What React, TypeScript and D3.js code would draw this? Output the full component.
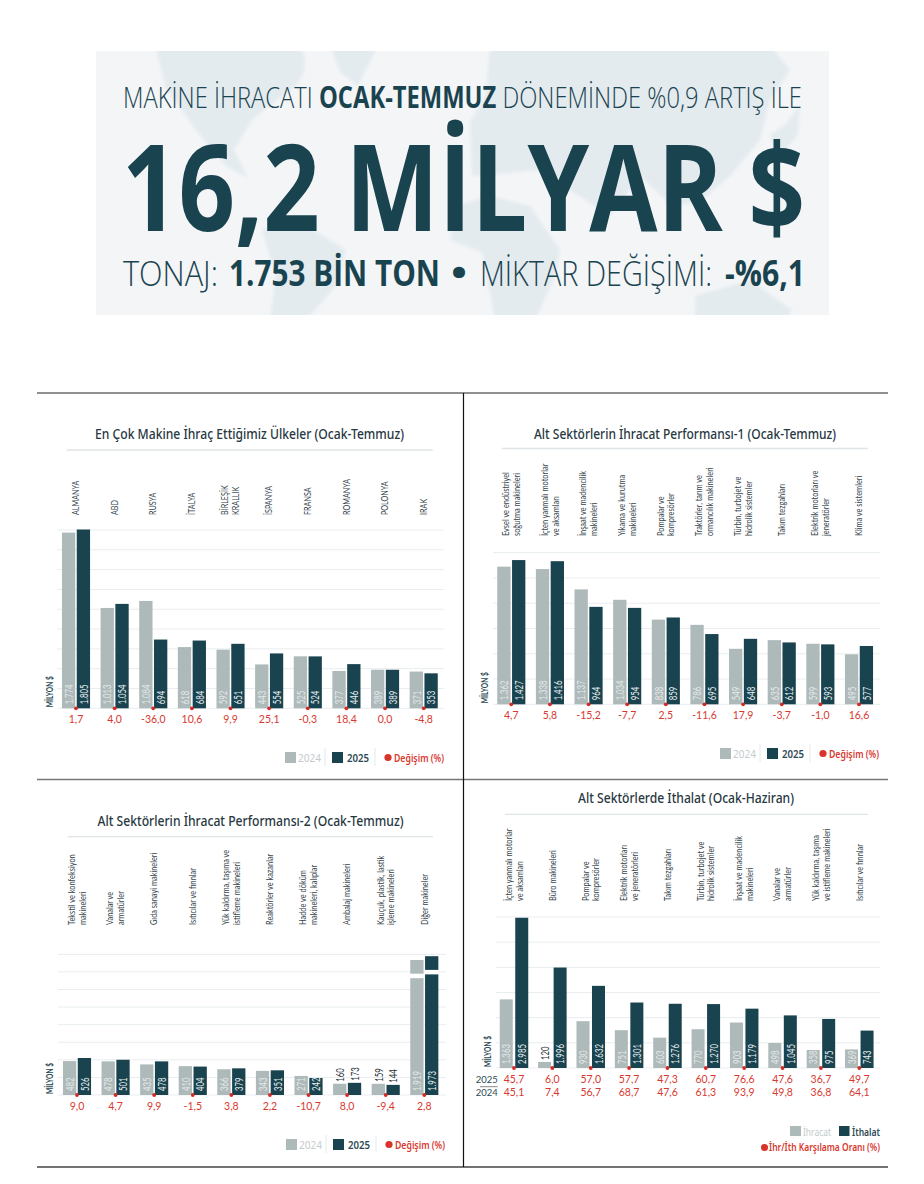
import React from "react";
import * as d3 from "d3";

// Ulkeler (Ocak-Temmuz)
const countryNames = ["ALMANYA", "ABD", "RUSYA", "İTALYA", "BİRLEŞİK|KRALLIK", "İSPANYA", "FRANSA", "ROMANYA", "POLONYA", "IRAK"];
const country2024 = [1774, 1013, 1084, 618, 592, 443, 525, 377, 389, 371];
const country2025 = [1805, 1054, 694, 684, 651, 554, 524, 446, 389, 353];
const countryChange = [1.7, 4.0, -36.0, 10.6, 9.9, 25.1, -0.3, 18.4, 0.0, -4.8];

// Alt sektorler 1
const sector1Names = [
  "Evsel ve endüstriyel|soğutma makineleri",
  "İçten yanmalı motorlar|ve aksamları",
  "İnşaat ve madencilik|makineleri",
  "Yıkama ve kurutma|makineleri",
  "Pompalar ve|kompresörler",
  "Traktörler, tarım ve|ormancılık makineleri",
  "Türbin, turbojet ve|hidrolik sistemler",
  "Takım tezgahları",
  "Elektrik motorları ve|jeneratörler",
  "Klima ve sistemleri",
];
const sector12024 = [1362, 1338, 1137, 1034, 838, 786, 549, 635, 599, 495];
const sector12025 = [1427, 1416, 964, 954, 859, 695, 648, 612, 593, 577];
const sector1Change = [4.7, 5.8, -15.2, -7.7, 2.5, -11.6, 17.9, -3.7, -1.0, 16.6];

// Alt sektorler 2
const sector2Names = [
  "Tekstil ve konfeksiyon|makineleri",
  "Vanalar ve|armatürler",
  "Gıda sanayi makineleri",
  "Isıtıcılar ve fırınlar",
  "Yük kaldırma, taşıma ve|istifleme makineleri",
  "Reaktörler ve kazanlar",
  "Hadde ve döküm|makineleri, kalıplar",
  "Ambalaj makineleri",
  "Kauçuk, plastik, lastik|işleme makineleri",
  "Diğer makineler",
];
const sector22024 = [482, 478, 435, 410, 366, 343, 271, 160, 159, 1919];
const sector22025 = [526, 501, 478, 404, 379, 351, 242, 173, 144, 1973];
const sector2Change = [9.0, 4.7, 9.9, -1.5, 3.8, 2.2, -10.7, 8.0, -9.4, 2.8];

// Ithalat (Ocak-Haziran)
const importNames = [
  "İçten yanmalı motorlar|ve aksamları",
  "Büro makineleri",
  "Pompalar ve|kompresörler",
  "Elektrik motorları|ve jeneratörleri",
  "Takım tezgahları",
  "Türbin, turbojet ve|hidrolik sistemler",
  "İnşaat ve madencilik|makineleri",
  "Vanalar ve|armatürler",
  "Yük kaldırma, taşıma|ve istifleme makineleri",
  "Isıtıcılar ve fırınlar",
];
const importExport = [1363, 120, 930, 751, 603, 770, 903, 498, 358, 369];
const importImport = [2985, 1996, 1632, 1301, 1276, 1270, 1179, 1045, 975, 743];
const coverage2025 = [45.7, 6.0, 57.0, 57.7, 47.3, 60.7, 76.6, 47.6, 36.7, 49.7];
const coverage2024 = [45.1, 7.4, 56.7, 68.7, 47.6, 61.3, 93.9, 49.8, 36.8, 64.1];

const DARK = "#1a4350";
const GREY = "#aeb9ba";
const RED = "#d8392f";
const LATO = "Lato, 'Liberation Sans', sans-serif";
const SANS = "'Noto Sans', 'Open Sans', sans-serif";
const OPEN = "'Open Sans', sans-serif";

const tr = d3.formatLocale({ decimal: ",", thousands: ".", grouping: [3], currency: ["", ""], minus: "-" });
const fmtValue = tr.format(",d");
const fmtChange = tr.format(",.1f");

interface PanelProps {
  title: string;
  titleX: number;
  titleY: number;
  titleW: number;
  ruleY: number;
  ruleX: [number, number];
  names: string[];
  a: number[];
  b: number[];
  rows: number[][];
  rowY: number[];
  base: number;
  top: number;
  max: number;
  step: number;
  gridX: [number, number];
  first: number;
  last: number;
  barW: number;
  gap: number;
  labelBottom: number;
  unitX: number;
  broken?: string;
  upper?: boolean;
}

// rotated text, squeezed along its length because no condensed font is installed
const Rot = ({ x, y, sx = 0.75, children, ...rest }: any) => (
  <text transform={`translate(${x},${y}) rotate(-90) scale(${sx},1)`} {...rest}>
    {children}
  </text>
);

function Panel(p: PanelProps) {
  const n = p.names.length;
  const stepX = (p.last - p.first) / (n - 1);
  const x = d3
    .scaleBand<string>()
    .domain(p.names)
    .range([p.first - stepX / 2, p.last + stepX / 2])
    .padding(0);
  const y = d3.scaleLinear().domain([0, p.max]).range([p.base, p.top]);
  const ticks = d3.range(0, p.max + p.step, p.step);
  const center = (name: string) => (x(name) as number) + x.bandwidth() / 2;

  const drawBar = (name: string, v: number, bx: number, fill: string, textFill: string) => {
    const h = p.base - y(v);
    const inside = h >= 15;
    return (
      <g key={fill}>
        <rect x={bx} y={y(v)} width={p.barW} height={h} fill={fill} />
        {p.broken === name && <rect x={bx - 0.5} y={y(v) + 13.7} width={p.barW + 1} height={4.5} fill="#fff" />}
        <Rot
          x={bx + p.barW / 2 + 4.2}
          y={inside ? p.base - 4 : y(v) - 2}
          sx={0.65}
          fontFamily={LATO}
          fontSize={12}
          fill={inside ? textFill : "#2a2f33"}
        >
          {fmtValue(v)}
        </Rot>
      </g>
    );
  };

  return (
    <g>
      <text
        x={p.titleX}
        y={p.titleY}
        textAnchor="middle"
        fontFamily={SANS}
        fontWeight={500}
        fontSize={13.5}
        fill="#28383f"
        textLength={p.titleW}
        lengthAdjust="spacingAndGlyphs"
      >
        {p.title}
      </text>
      <line x1={p.ruleX[0]} x2={p.ruleX[1]} y1={p.ruleY} y2={p.ruleY} stroke="#dfe4e6" strokeWidth={1.3} />

      {ticks.map((t) => (
        <line key={t} x1={p.gridX[0]} x2={p.gridX[1]} y1={y(t)} y2={y(t)} stroke="#e9edef" strokeWidth={1} />
      ))}

      <Rot x={p.unitX} y={p.base - 1} sx={0.74} fontFamily={LATO} fontSize={9} fontWeight={700} fill="#2c4a55">
        MİLYON $
      </Rot>

      {p.names.map((name, i) => {
        const cx = center(name);
        const lines = name.split("|");
        return (
          <g key={name}>
            {lines.map((l, j) => (
              <Rot
                key={l}
                x={cx + (j - (lines.length - 1) / 2) * 10.8 + 3.2}
                y={p.labelBottom}
                sx={p.upper ? 0.72 : 0.74}
                fontFamily={LATO}
                fontSize={10}
                fill="#35454c"
              >
                {l}
              </Rot>
            ))}
            {drawBar(name, p.a[i], cx - p.barW - p.gap / 2, GREY, "#e4e9e9")}
            {drawBar(name, p.b[i], cx + p.gap / 2, DARK, "#e6eeef")}
            <circle cx={cx} cy={p.base} r={1.9} fill="#d42a26" />
            {p.rows.map((row, r) => (
              <text key={r} x={cx} y={p.rowY[r]} textAnchor="middle" fontFamily={LATO} fontSize={10.5} fill={RED}>
                {fmtChange(row[i])}
              </text>
            ))}
          </g>
        );
      })}
    </g>
  );
}

const YearLegend = ({ x, y }: { x: number; y: number }) => (
  <g transform={`translate(${x},${y})`}>
    <rect x={0} y={0} width={11} height={11} fill={GREY} />
    <text x={13} y={10} fontFamily={SANS} fontSize={10.5} fill="#c3cbcd" textLength={23} lengthAdjust="spacingAndGlyphs">
      2024
    </text>
    <line x1={40} x2={40} y1={-4} y2={14} stroke="#e4e8ea" />
    <rect x={47} y={0} width={11} height={11} fill={DARK} />
    <text x={62} y={10} fontFamily={SANS} fontSize={10.5} fontWeight={600} fill="#2c4a55" textLength={22} lengthAdjust="spacingAndGlyphs">
      2025
    </text>
    <line x1={90} x2={90} y1={-4} y2={14} stroke="#e4e8ea" />
    <circle cx={103} cy={5.5} r={3.6} fill="#d9332b" />
    <text x={109} y={10} fontFamily={SANS} fontSize={10} fontWeight={600} fill={RED} textLength={50} lengthAdjust="spacingAndGlyphs">
      Değişim (%)
    </text>
  </g>
);

const Fit = ({ x, w, bold, children }: any) => (
  <text x={x} y={286} fontFamily={OPEN} fontWeight={bold ? 700 : 300} fontSize={35} fill={DARK} textLength={w} lengthAdjust="spacingAndGlyphs">
    {children}
  </text>
);

export default function App() {
  return (
    <svg width={924} height={1184} viewBox="0 0 924 1184" style={{ position: "absolute", left: 0, top: 0, background: "#fff" }}>
      <defs>
        <filter id="soft">
          <feGaussianBlur stdDeviation="1.6" />
        </filter>
        <clipPath id="banner">
          <rect x={96} y={51} width={733} height={264} />
        </clipPath>
      </defs>

      {/* banner with a faint world map */}
      <rect x={96} y={51} width={733} height={264} fill="#f3f5f7" />
      <g clipPath="url(#banner)" fill="#e4ebef" filter="url(#soft)">
        <path d="M155,45 L300,45 C312,68 300,86 282,96 L252,120 L234,150 L248,178 L226,166 L196,130 L166,88 Z" />
        <path d="M330,45 L378,45 L358,86 L340,72 Z" />
        <path d="M262,230 L300,222 L346,250 L336,286 L306,320 L270,320 L276,276 Z" />
        <path d="M455,206 L490,196 L530,206 L560,250 L555,276 L535,320 L495,320 L482,252 L450,240 Z" />
        <path d="M490,45 L770,45 L790,70 L770,100 L760,140 L730,176 L700,202 L672,206 L640,176 L610,216 L570,190 L540,170 L472,176 L470,122 L486,96 Z" />
        <path d="M695,296 L750,280 L792,310 L786,320 L695,320 Z" />
        <path d="M770,135 L785,125 L800,105 L798,135 L778,158 Z" />
      </g>
      <text x={123} y={108} fontFamily={OPEN} fontWeight={300} fontSize={30} fill={DARK} textLength={679} lengthAdjust="spacingAndGlyphs">
        MAKİNE İHRACATI <tspan fontWeight={700}>OCAK-TEMMUZ</tspan> DÖNEMİNDE %0,9 ARTIŞ İLE
      </text>
      <text x={122} y={231} fontFamily={OPEN} fontWeight={700} fontSize={120} fill={DARK} textLength={683} lengthAdjust="spacingAndGlyphs">
        16,2 MİLYAR $
      </text>
      <Fit x={123} w={95}>TONAJ:</Fit>
      <Fit x={229} w={211} bold>1.753 BİN TON</Fit>
      <Fit x={451} w={16} bold>•</Fit>
      <Fit x={480} w={232}>MİKTAR DEĞİŞİMİ:</Fit>
      <Fit x={725} w={80} bold>-%6,1</Fit>

      {/* frame */}
      <line x1={37} x2={888} y1={393} y2={393} stroke="#222" strokeWidth={1.2} />
      <line x1={37} x2={888} y1={779.5} y2={779.5} stroke="#777" strokeWidth={1.6} />
      <line x1={37} x2={888} y1={1167} y2={1167} stroke="#444" strokeWidth={1.4} />
      <line x1={463.5} x2={463.5} y1={393} y2={1167} stroke="#111" strokeWidth={1.2} />

      <Panel
        title="En Çok Makine İhraç Ettiğimiz Ülkeler (Ocak-Temmuz)"
        titleX={249.5}
        titleY={439}
        titleW={309}
        ruleY={450}
        ruleX={[66.7, 432.7]}
        names={countryNames}
        a={country2024}
        b={country2025}
        rows={[countryChange]}
        rowY={[723]}
        base={708.3}
        top={530}
        max={1800}
        step={200}
        gridX={[57, 444]}
        first={76}
        last={423.7}
        barW={13.3}
        gap={1.5}
        labelBottom={515}
        unitX={53}
        upper
      />
      <YearLegend x={285} y={752} />

      <Panel
        title="Alt Sektörlerin İhracat Performansı-1 (Ocak-Temmuz)"
        titleX={685}
        titleY={438.7}
        titleW={302}
        ruleY={448.5}
        ruleX={[501.7, 867.7]}
        names={sector1Names}
        a={sector12024}
        b={sector12025}
        rows={[sector1Change]}
        rowY={[719.3]}
        base={704.3}
        top={552.7}
        max={1500}
        step={250}
        gridX={[493, 880]}
        first={511.3}
        last={859}
        barW={13.3}
        gap={1.5}
        labelBottom={536}
        unitX={488}
      />
      <YearLegend x={720} y={748} />

      <Panel
        title="Alt Sektörlerin İhracat Performansı-2 (Ocak-Temmuz)"
        titleX={250.5}
        titleY={825.7}
        titleW={306}
        ruleY={836.7}
        ruleX={[67.7, 433]}
        names={sector2Names}
        a={sector22024}
        b={sector22025}
        rows={[sector2Change]}
        rowY={[1110]}
        base={1095}
        top={954.3}
        max={2000}
        step={250}
        gridX={[58, 446]}
        first={77}
        last={424.3}
        barW={13.3}
        gap={1.5}
        labelBottom={925}
        unitX={53}
        broken="Diğer makineler"
      />
      <YearLegend x={286} y={1139} />

      <Panel
        title="Alt Sektörlerde İthalat (Ocak-Haziran)"
        titleX={686}
        titleY={803}
        titleW={216}
        ruleY={814.3}
        ruleX={[505, 868]}
        names={importNames}
        a={importExport}
        b={importImport}
        rows={[coverage2025, coverage2024]}
        rowY={[1083.3, 1095.7]}
        base={1068}
        top={917}
        max={3000}
        step={500}
        gridX={[496, 880]}
        first={514}
        last={859.3}
        barW={13}
        gap={2.5}
        labelBottom={901}
        unitX={491}
      />
      {/* import panel row labels and legend */}
      <text x={497.7} y={1083.3} textAnchor="end" fontFamily={LATO} fontSize={9.5} fill="#2c4a55">2025</text>
      <line x1={480} x2={497.7} y1={1086.7} y2={1086.7} stroke="#555" strokeWidth={0.7} />
      <text x={497.7} y={1095.7} textAnchor="end" fontFamily={LATO} fontSize={9.5} fill="#2c4a55">2024</text>
      <rect x={790} y={1126} width={11} height={10} fill={GREY} />
      <text x={803} y={1135.5} fontFamily={SANS} fontSize={10} fill="#c3cbcd" textLength={28} lengthAdjust="spacingAndGlyphs">İhracat</text>
      <rect x={839} y={1126} width={10.5} height={10} fill={DARK} />
      <text x={852} y={1135.5} fontFamily={SANS} fontSize={10} fontWeight={600} fill="#2c4a55" textLength={28} lengthAdjust="spacingAndGlyphs">İthalat</text>
      <circle cx={764.5} cy={1147.5} r={3.5} fill="#d9332b" />
      <text x={769} y={1151} fontFamily={SANS} fontSize={10} fontWeight={600} fill={RED} textLength={111} lengthAdjust="spacingAndGlyphs">İhr/İth Karşılama Oranı (%)</text>
    </svg>
  );
}
